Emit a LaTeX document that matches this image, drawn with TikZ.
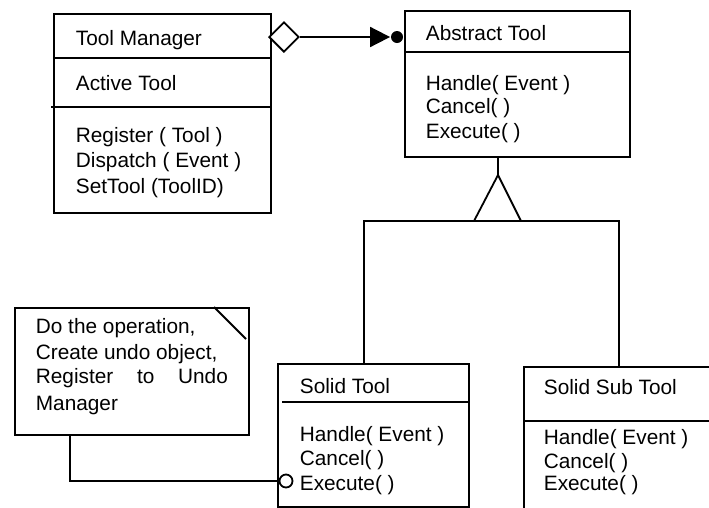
\documentclass[tikz,border=0pt]{standalone}
\usepackage{fontspec}
\setmainfont{Liberation Sans}
\usetikzlibrary{arrows.meta,shapes.geometric}
\begin{document}
\begin{tikzpicture}[x=1pt,y=-1pt,line width=1.8pt,
  box/.style={draw,anchor=north west,inner sep=0pt},
  txt/.style={anchor=base west,inner sep=0pt,font=\fontsize{20.8}{25}\selectfont},
]
\useasboundingbox (0,0) rectangle (709,507);
\clip (0,0) rectangle (709,507);

% ---- Tool Manager class ----
\node[box,minimum width=217pt,minimum height=199pt] (tm) at (53,13) {};
\draw (53,58) -- (270,58);
\draw (51,107) -- (270,107);
\node[txt] (tmname) at (75,45) {Tool Manager};
\node[txt] (tmattr) at (75,90) {Active Tool};
\node[txt] (tmop1) at (75,142) {Register ( Tool )};
\node[txt] (tmop2) at (75,167) {Dispatch ( Event )};
\node[txt] (tmop3) at (75,193) {SetTool (ToolID)};

% ---- Abstract Tool class ----
\node[box,minimum width=225pt,minimum height=146pt] (abs) at (404,10) {};
\draw (404,52) -- (629,52);
\node[txt] (absname) at (425,40) {Abstract Tool};
\node[txt] (absop1) at (425,90) {Handle( Event )};
\node[txt] (absop2) at (425,113) {Cancel( )};
\node[txt] (absop3) at (425,138) {Execute( )};

% ---- aggregation: diamond, filled arrow and dot ----
\node[diamond,draw,fill=white,minimum width=30pt,minimum height=30pt,inner sep=0pt,
      anchor=west] (agg) at (268,37) {};
\node[circle,fill,minimum size=12pt,inner sep=0pt] (dot) at (397,37) {};
\draw[-{Triangle[length=20pt,width=20pt]}] (agg.east) -- (dot.west);

% ---- Solid Tool class ----
\node[box,minimum width=191pt,minimum height=143pt] (st) at (277,363) {};
\draw (282,402) -- (468,402);
\node[txt] (stname) at (299,393) {Solid Tool};
\node[txt] (stop1) at (299,441) {Handle( Event )};
\node[txt] (stop2) at (299,465) {Cancel( )};
\node[txt] (stop3) at (299,490) {Execute( )};

% ---- Solid Sub Tool class (runs past the page edge) ----
\node[box,minimum width=220pt,minimum height=160pt] (sst) at (523,366) {};
\draw (523,421) -- (745,421);
\node[txt] (sstname) at (543,394) {Solid Sub Tool};
\node[txt] (sstop1) at (543,444) {Handle( Event )};
\node[txt] (sstop2) at (543,468) {Cancel( )};
\node[txt] (sstop3) at (543,490) {Execute( )};

% ---- generalisation ----
\coordinate (gapex) at (498,175);
\coordinate (gleft) at (474,221);
\coordinate (gright) at (521,221);
\coordinate (busl) at (364,221);
\coordinate (busr) at (619,221);
\draw (abs.south -| gapex) -- (gapex);
\draw (gapex) -- (gleft) -- (gright) -- cycle;
\draw (st.north -| busl) -- (busl) -- (busr) -- (sst.north -| busr);

% ---- note ----
\node[box,minimum width=234pt,minimum height=127pt] (note) at (14,307) {};
\draw (214,307) -- (246,339);
\node[txt] (n1) at (35,333) {Do the operation,};
\node[txt] (n2) at (35,359) {Create undo object,};
\node[txt] (n3) at (35,383) {\makebox[192pt][s]{Register\hfill to\hfill Undo}};
\node[txt] (n4) at (35,410) {Manager};

% ---- note attached to Execute( ) ----
\node[circle,draw,fill=white,minimum size=13pt,inner sep=0pt] (lolli) at (286,481) {};
\coordinate (noteout) at (70,434);
\draw (noteout) |- (lolli.west);
\end{tikzpicture}
\end{document}
